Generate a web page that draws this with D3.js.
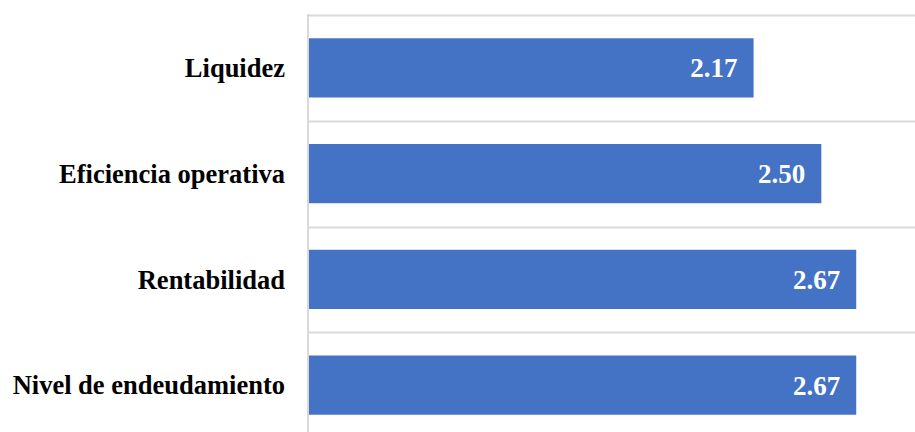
<!DOCTYPE html>
<html>
<head>
<meta charset="utf-8">
<script src="https://cdn.jsdelivr.net/npm/d3@7"></script>
<style>
  body { margin: 0; background: #fff; }
</style>
</head>
<body>
<svg width="915" height="432"></svg>
<script>
// categories top to bottom, and their values
var categories = ["Liquidez", "Eficiencia operativa", "Rentabilidad", "Nivel de endeudamiento"];
var values = [2.17, 2.50, 2.67, 2.67];
var valueLabels = ["2.17", "2.50", "2.67", "2.67"];

var font = "'Times New Roman', 'Liberation Serif', Tinos, 'DejaVu Serif', serif";

var svg = d3.select("svg");

var x = d3.scaleLinear().domain([0, 3]).range([308, 924]);
var y = d3.scaleBand().domain(categories).range([15, 438]).paddingInner(0.44).paddingOuter(0.22);

// gridlines at band edges
var edges = categories.map(function (d) { return y(d) - y.step() * y.paddingInner() / 2; });
svg.selectAll(".grid")
    .data(edges)
    .enter().append("line")
    .attr("class", "grid")
    .attr("x1", 308).attr("x2", 915)
    .attr("y1", function (d) { return Math.round(d) + 0.5; })
    .attr("y2", function (d) { return Math.round(d) + 0.5; })
    .style("stroke", "#d9d9d9")
    .style("stroke-width", 2);

// bars
svg.selectAll(".bar")
    .data(categories)
    .enter().append("rect")
    .attr("class", "bar")
    .attr("x", x(0) + 1)
    .attr("y", function (d) { return y(d); })
    .attr("width", function (d, i) { return x(values[i]) - x(0) - 1; })
    .attr("height", y.bandwidth())
    .style("fill", "#4472c4");

// axis line
svg.append("line")
    .attr("x1", 308).attr("x2", 308)
    .attr("y1", 14).attr("y2", 432)
    .style("stroke", "#d9d9d9")
    .style("stroke-width", 2);

// category labels
svg.selectAll(".cat")
    .data(categories)
    .enter().append("text")
    .attr("class", "cat")
    .attr("x", 285)
    .attr("y", function (d) { return y(d) + y.bandwidth() / 2; })
    .attr("dy", "0.35em")
    .attr("font-family", font)
    .attr("font-weight", "bold")
    .style("text-anchor", "end")
    .style("font-size", "26.5px")
    .style("fill", "#000")
    .text(function (d) { return d; });

// value labels inside bars
svg.selectAll(".val")
    .data(categories)
    .enter().append("text")
    .attr("class", "val")
    .attr("x", function (d, i) { return x(values[i]) - 16; })
    .attr("y", function (d) { return y(d) + y.bandwidth() / 2; })
    .attr("dy", "0.35em")
    .attr("font-family", font)
    .attr("font-weight", "bold")
    .style("text-anchor", "end")
    .style("font-size", "27px")
    .style("fill", "#fff")
    .text(function (d, i) { return valueLabels[i]; });
</script>
</body>
</html>
